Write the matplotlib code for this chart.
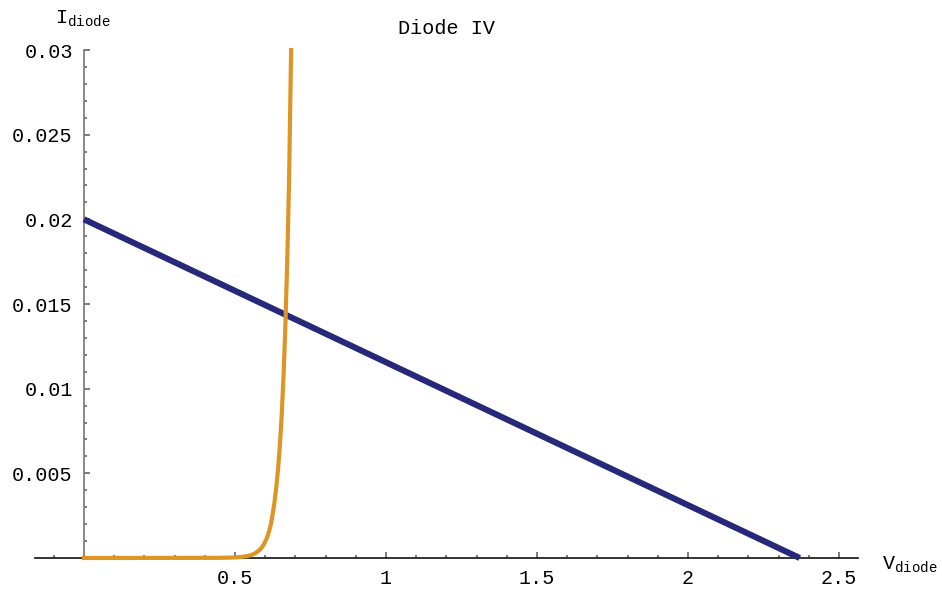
import numpy as np
import matplotlib
matplotlib.use("Agg")
import matplotlib.pyplot as plt
from matplotlib.ticker import MultipleLocator, FixedLocator

plt.rcParams['font.family'] = ['Liberation Mono', 'DejaVu Sans Mono']
plt.rcParams['mathtext.fontset'] = 'custom'
plt.rcParams['mathtext.rm'] = 'Liberation Mono'
plt.rcParams['mathtext.it'] = 'Liberation Mono'

# diode curve
v_diode = [0.0, 0.45, 0.5, 0.52, 0.54, 0.555, 0.567, 0.578, 0.588, 0.597, 0.605, 0.612,
           0.619, 0.625, 0.631, 0.637, 0.643, 0.649, 0.655, 0.661, 0.667, 0.673, 0.679, 0.686]
i_diode = [0.0, 0.00001, 0.00003, 0.00006, 0.00011, 0.00018, 0.00028, 0.00042, 0.0006, 0.00085, 0.00115, 0.0015,
           0.0020, 0.0026, 0.0033, 0.0042, 0.0053, 0.0067, 0.0085, 0.0108, 0.0137, 0.0174, 0.0221, 0.03]

# load line
v_load = [0.0, 2.37]
i_load = [0.02, 0.0]

x_ticks = [0.5, 1, 1.5, 2, 2.5]
x_labels = ['0.5', '1', '1.5', '2', '2.5']
y_ticks = [0.005, 0.01, 0.015, 0.02, 0.025, 0.03]
y_labels = ['0.005', '0.01', '0.015', '0.02', '0.025', '0.03']

fs = 14.5
fig = plt.figure(figsize=(9.42, 5.9), dpi=100)
ax = fig.add_axes([35/942, 32/590, 823/942, 508/590])

ax.plot(v_load, i_load, color='#26287A', lw=4.4, solid_capstyle='butt', clip_on=False, zorder=3)
ax.plot(v_diode, i_diode, color='#DD9526', lw=3.0, clip_on=False, zorder=4,
        solid_joinstyle='round')

ax.set_xlim(-0.162, 2.563)
ax.set_ylim(0, 0.03)

for s in ['top', 'right']:
    ax.spines[s].set_visible(False)
ax.spines['left'].set_position(('data', 0))
ax.spines['bottom'].set_position(('data', 0))
ax.spines['left'].set_bounds(0, 0.03)
ax.spines['left'].set_color('#777777')
ax.spines['bottom'].set_color('#111111')
ax.spines['left'].set_linewidth(1.2)
ax.spines['bottom'].set_linewidth(1.2)

ax.xaxis.set_major_locator(FixedLocator(x_ticks))
ax.set_xticklabels(x_labels)
ax.xaxis.set_minor_locator(MultipleLocator(0.1))
ax.yaxis.set_major_locator(FixedLocator(y_ticks))
ax.set_yticklabels(y_labels)
ax.yaxis.set_minor_locator(MultipleLocator(0.001))

ax.tick_params(which='both', direction='in', color='#666666', width=1.2, labelsize=fs)
ax.tick_params(which='major', length=4.5)
ax.tick_params(which='minor', length=2.3)
ax.tick_params(axis='x', which='major', pad=8)
ax.tick_params(axis='y', which='major', pad=8)

fig.text(446/942, 1 - 28/590, 'Diode IV', ha='center', va='center', fontsize=fs)
fig.text(55/942, 1 - 19/590, r'$\mathrm{I}_{\mathrm{diode}}$', ha='left', va='center', fontsize=fs)
fig.text(882/942, 1 - 565/590, r'$\mathrm{V}_{\mathrm{diode}}$', ha='left', va='center', fontsize=fs)

fig.savefig('out.png', dpi=100)
